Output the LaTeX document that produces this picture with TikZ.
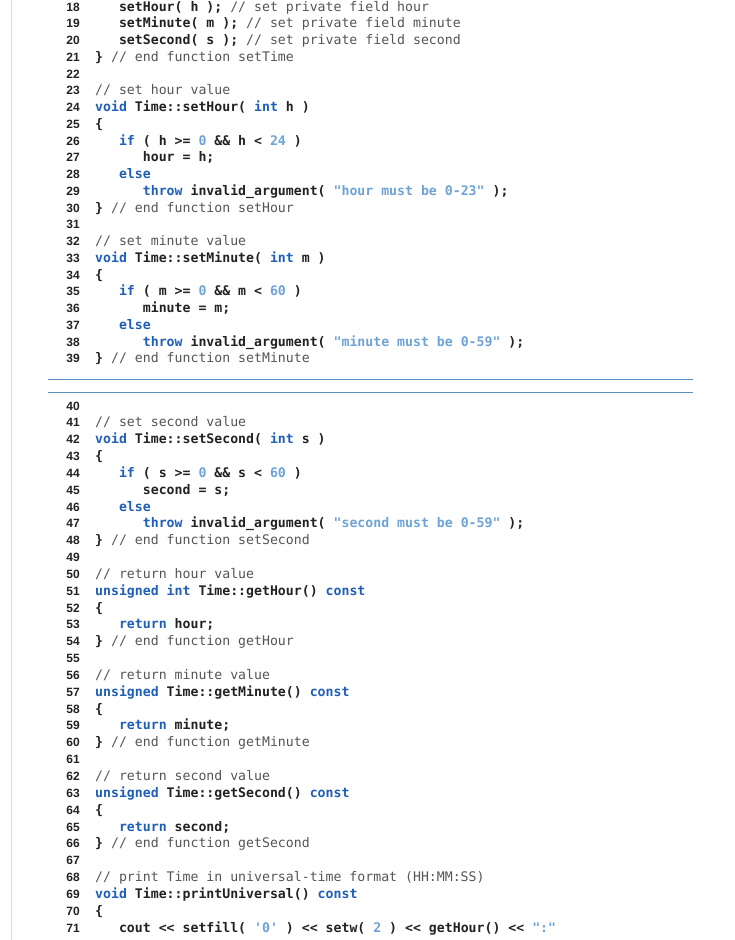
\documentclass[tikz,border=0pt]{standalone}
\usepackage{fontspec}
\newfontfamily\codef{DejaVu Sans Mono}
\newfontfamily\numf{Liberation Sans}
\definecolor{kwc}{HTML}{1F5FB8}
\definecolor{lit}{HTML}{6FA3D6}
\definecolor{cmc}{HTML}{555555}
\definecolor{txc}{HTML}{222222}
\definecolor{rule}{HTML}{5B8CC4}
\newcommand{\kw}[1]{\textcolor{kwc}{\bfseries #1}}
\newcommand{\lt}[1]{\textcolor{lit}{#1}}
\newcommand{\cm}[1]{\textcolor{cmc}{\mdseries #1}}
\tikzset{
 lnum/.style={anchor=base east, inner sep=0pt, font=\numf\bfseries\fontsize{12}{12}\selectfont, text=txc},
 code/.style={anchor=base west, inner sep=0pt, font=\codef\bfseries\fontsize{13.2}{13.2}\selectfont, text=txc},
}
\newcommand{\cl}[3]{\node[lnum] (n#1) at (80,#2) {#1}; \node[code] (c#1) at (95,#2) {#3};}
\begin{document}
\begin{tikzpicture}[x=1pt,y=-1pt]
\useasboundingbox (0,0) rectangle (735,940);
\fill[white] (0,0) rectangle (735,940);
\draw[gray!30, line width=0.8pt] (11,0) -- (11,940);
\draw[rule, line width=0.9pt] (48,379) -- (693,379);
\draw[rule, line width=0.9pt] (48,392) -- (693,392);
\def\ya#1{\fpeval{11+(#1-18)*16.76}}
\def\yb#1{\fpeval{410+(#1-40)*16.84}}
\cl{18}{\ya{18}}{\ \ \ setHour( h ); \cm{// set private field hour}}
\cl{19}{\ya{19}}{\ \ \ setMinute( m ); \cm{// set private field minute}}
\cl{20}{\ya{20}}{\ \ \ setSecond( s ); \cm{// set private field second}}
\cl{21}{\ya{21}}{\} \cm{// end function setTime}}
\cl{22}{\ya{22}}{}
\cl{23}{\ya{23}}{\cm{// set hour value}}
\cl{24}{\ya{24}}{\kw{void} Time::setHour( \kw{int} h )}
\cl{25}{\ya{25}}{\{}
\cl{26}{\ya{26}}{\ \ \ \kw{if} ( h >= \lt{0} \&\& h < \lt{24} )}
\cl{27}{\ya{27}}{\ \ \ \ \ \ hour = h;}
\cl{28}{\ya{28}}{\ \ \ \kw{else}}
\cl{29}{\ya{29}}{\ \ \ \ \ \ \kw{throw} invalid\_argument( \lt{"hour must be 0-23"} );}
\cl{30}{\ya{30}}{\} \cm{// end function setHour}}
\cl{31}{\ya{31}}{}
\cl{32}{\ya{32}}{\cm{// set minute value}}
\cl{33}{\ya{33}}{\kw{void} Time::setMinute( \kw{int} m )}
\cl{34}{\ya{34}}{\{}
\cl{35}{\ya{35}}{\ \ \ \kw{if} ( m >= \lt{0} \&\& m < \lt{60} )}
\cl{36}{\ya{36}}{\ \ \ \ \ \ minute = m;}
\cl{37}{\ya{37}}{\ \ \ \kw{else}}
\cl{38}{\ya{38}}{\ \ \ \ \ \ \kw{throw} invalid\_argument( \lt{"minute must be 0-59"} );}
\cl{39}{\ya{39}}{\} \cm{// end function setMinute}}
\cl{40}{\yb{40}}{}
\cl{41}{\yb{41}}{\cm{// set second value}}
\cl{42}{\yb{42}}{\kw{void} Time::setSecond( \kw{int} s )}
\cl{43}{\yb{43}}{\{}
\cl{44}{\yb{44}}{\ \ \ \kw{if} ( s >= \lt{0} \&\& s < \lt{60} )}
\cl{45}{\yb{45}}{\ \ \ \ \ \ second = s;}
\cl{46}{\yb{46}}{\ \ \ \kw{else}}
\cl{47}{\yb{47}}{\ \ \ \ \ \ \kw{throw} invalid\_argument( \lt{"second must be 0-59"} );}
\cl{48}{\yb{48}}{\} \cm{// end function setSecond}}
\cl{49}{\yb{49}}{}
\cl{50}{\yb{50}}{\cm{// return hour value}}
\cl{51}{\yb{51}}{\kw{unsigned int} Time::getHour() \kw{const}}
\cl{52}{\yb{52}}{\{}
\cl{53}{\yb{53}}{\ \ \ \kw{return} hour;}
\cl{54}{\yb{54}}{\} \cm{// end function getHour}}
\cl{55}{\yb{55}}{}
\cl{56}{\yb{56}}{\cm{// return minute value}}
\cl{57}{\yb{57}}{\kw{unsigned} Time::getMinute() \kw{const}}
\cl{58}{\yb{58}}{\{}
\cl{59}{\yb{59}}{\ \ \ \kw{return} minute;}
\cl{60}{\yb{60}}{\} \cm{// end function getMinute}}
\cl{61}{\yb{61}}{}
\cl{62}{\yb{62}}{\cm{// return second value}}
\cl{63}{\yb{63}}{\kw{unsigned} Time::getSecond() \kw{const}}
\cl{64}{\yb{64}}{\{}
\cl{65}{\yb{65}}{\ \ \ \kw{return} second;}
\cl{66}{\yb{66}}{\} \cm{// end function getSecond}}
\cl{67}{\yb{67}}{}
\cl{68}{\yb{68}}{\cm{// print Time in universal-time format (HH:MM:SS)}}
\cl{69}{\yb{69}}{\kw{void} Time::printUniversal() \kw{const}}
\cl{70}{\yb{70}}{\{}
\cl{71}{\yb{71}}{\ \ \ cout << setfill( \lt{'0'} ) << setw( \lt{2} ) << getHour() << \lt{":"}}
\end{tikzpicture}
\end{document}
